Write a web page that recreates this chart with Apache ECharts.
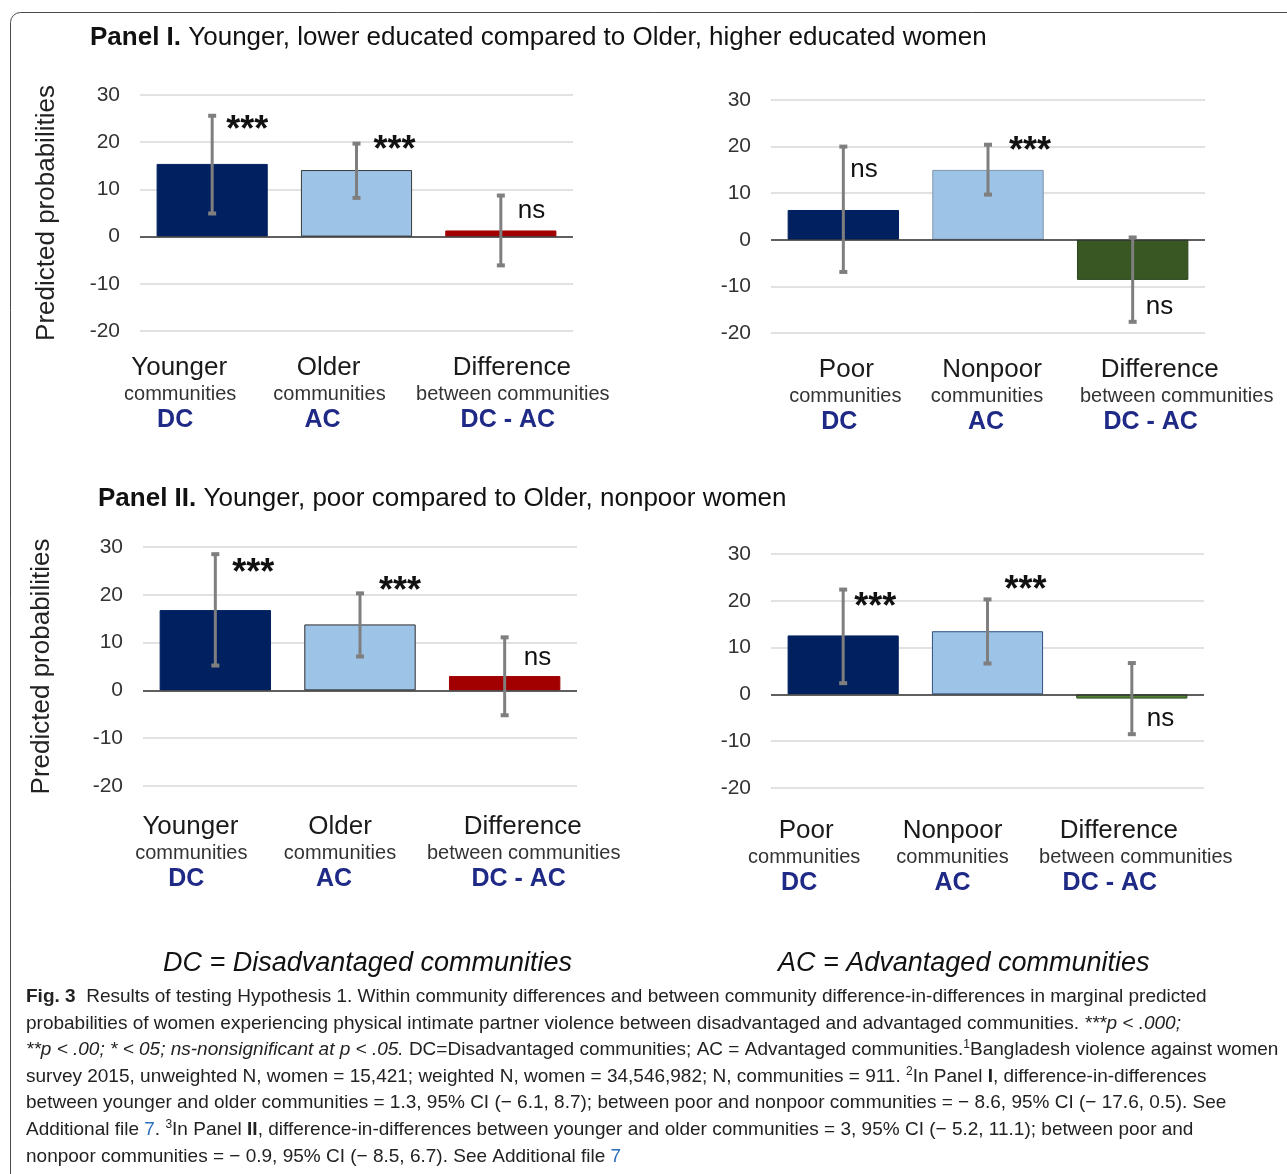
<!DOCTYPE html>
<html>
<head>
<meta charset="utf-8">
<script src="https://cdn.jsdelivr.net/npm/echarts@6/dist/echarts.min.js"></script>
<style>
  html, body { margin: 0; padding: 0; background: #ffffff; }
  #chart { width: 1287px; height: 1174px; }
</style>
</head>
<body>
<div id="chart"></div>
<script>
// ---------- data ----------
const yTicks = [-20, -10, 0, 10, 20, 30];

const ageCategories = [
  ['Younger', 'communities', 'DC'],
  ['Older', 'communities', 'AC'],
  ['Difference', 'between communities', 'DC - AC']
];
const wealthCategories = [
  ['Poor', 'communities', 'DC'],
  ['Nonpoor', 'communities', 'AC'],
  ['Difference', 'between communities', 'DC - AC']
];

// Panel I: younger/lower educated vs older/higher educated women
const panelIAgeValues = [15.4, 14.1, 1.3];
const panelIAgeLow = [4.9, 8.2, -6.1];
const panelIAgeHigh = [25.6, 19.7, 8.7];
const panelIAgeSig = ['***', '***', 'ns'];

const panelIWealthValues = [6.4, 15.0, -8.6];
const panelIWealthLow = [-6.9, 9.7, -17.6];
const panelIWealthHigh = [20.0, 20.4, 0.5];
const panelIWealthSig = ['ns', '***', 'ns'];

// Panel II: younger/poor vs older/nonpoor women
const panelIIAgeValues = [16.8, 13.8, 3.0];
const panelIIAgeLow = [5.2, 7.1, -5.2];
const panelIIAgeHigh = [28.5, 20.3, 11.1];
const panelIIAgeSig = ['***', '***', 'ns'];

const panelIIWealthValues = [12.6, 13.5, -0.9];
const panelIIWealthLow = [2.4, 6.6, -8.5];
const panelIIWealthHigh = [22.4, 20.3, 6.7];
const panelIIWealthSig = ['***', '***', 'ns'];

// ---------- styling / layout ----------
const FONT = '"Liberation Sans", Arial, Helvetica, sans-serif';
const DC_BLUE = '#1f2a86';
const NAVY = '#002060';
const LIGHT = '#9dc3e6';
const RED = '#a20000';
const GREEN = '#385723';

const charts = [
  {
    cats: ageCategories, values: panelIAgeValues, low: panelIAgeLow, high: panelIAgeHigh, sig: panelIAgeSig,
    grid: { left: 140, top: 95, width: 433, height: 236 },
    colors: [[NAVY, NAVY], [LIGHT, '#3a3a3a'], [RED, RED]],
    yName: 'Predicted probabilities', nameGap: 80, labelMargin: 23,
    shifts: [[-33, -32, -37], [-28, -27, -34], [11, 12, 7]],
    sigY: [23.7, 19.3, 5.5], sigDx: [14, 17, 17]
  },
  {
    cats: wealthCategories, values: panelIWealthValues, low: panelIWealthLow, high: panelIWealthHigh, sig: panelIWealthSig,
    grid: { left: 771, top: 100, width: 434, height: 233 },
    colors: [[NAVY, NAVY], [LIGHT, '#7f93aa'], [GREEN, '#2b451b']],
    yName: '', nameGap: 0, labelMargin: 23,
    shifts: [[3, 2, -4], [4, -1, -2], [27, 44, 18]],
    sigY: [15.0, 20.2, -14.4], sigDx: [7, 21, 13]
  },
  {
    cats: ageCategories, values: panelIIAgeValues, low: panelIIAgeLow, high: panelIIAgeHigh, sig: panelIIAgeSig,
    grid: { left: 143, top: 547, width: 434, height: 239 },
    colors: [[NAVY, NAVY], [LIGHT, '#2e2e2e'], [RED, RED]],
    yName: 'Predicted probabilities', nameGap: 88, labelMargin: 27,
    shifts: [[-25, -24, -29], [-20, -20, -26], [18, 19, 14]],
    sigY: [25.5, 21.8, 6.9], sigDx: [17, 19, 19]
  },
  {
    cats: wealthCategories, values: panelIIWealthValues, low: panelIIWealthLow, high: panelIIWealthHigh, sig: panelIIWealthSig,
    grid: { left: 771, top: 554, width: 433, height: 234 },
    colors: [[NAVY, NAVY], [LIGHT, '#2f4f7f'], ['#548235', '#2f4a20']],
    yName: '', nameGap: 0, labelMargin: 29,
    shifts: [[-37, -39, -44], [-35, -35, -35], [-13, 4, -22]],
    sigY: [19.7, 23.3, -5.3], sigDx: [11, 17, 15]
  }
];

// rich styles that let each line of a category label sit at its own horizontal offset
function shiftPad(d) {
  return d >= 0 ? [0, 0, 0, 2 * d] : [0, -2 * d, 0, 0];
}
function categoryRich(shifts) {
  const rich = {};
  shifts.forEach((s, i) => {
    rich['m' + i] = { fontSize: 26, color: '#1a1a1a', fontFamily: FONT, lineHeight: 27, align: 'center', padding: shiftPad(s[0]) };
    rich['s' + i] = { fontSize: 20, color: '#333333', fontFamily: FONT, lineHeight: 26, align: 'center', padding: shiftPad(s[1]) };
    rich['c' + i] = { fontSize: 25, fontWeight: 'bold', color: DC_BLUE, fontFamily: FONT, lineHeight: 27, align: 'center', padding: shiftPad(s[2]) };
  });
  return rich;
}

const grids = [], xAxes = [], yAxes = [], series = [];

charts.forEach((c, k) => {
  grids.push(Object.assign({ containLabel: false }, c.grid));

  xAxes.push({
    type: 'category', gridIndex: k,
    data: c.cats.map((_, i) => i),
    axisLine: { show: false, onZero: false },
    axisTick: { show: false },
    axisLabel: {
      interval: 0, margin: c.labelMargin,
      formatter: (v, i) => `{m${i}|${c.cats[i][0]}}\n{s${i}|${c.cats[i][1]}}\n{c${i}|${c.cats[i][2]}}`,
      rich: categoryRich(c.shifts)
    }
  });

  yAxes.push({
    type: 'value', gridIndex: k,
    min: yTicks[0], max: yTicks[yTicks.length - 1], interval: yTicks[1] - yTicks[0],
    name: c.yName, nameLocation: 'middle', nameGap: c.nameGap, nameRotate: 90,
    nameTextStyle: { fontSize: 26, color: '#222222', fontFamily: FONT },
    axisLine: { show: false }, axisTick: { show: false },
    axisLabel: { fontSize: 21, color: '#333333', fontFamily: FONT, margin: 20 },
    splitLine: { lineStyle: { color: '#d9d9d9', width: 1.5 } }
  });

  // bars
  series.push({
    type: 'bar', xAxisIndex: k, yAxisIndex: k,
    barWidth: '77%',
    data: c.values.map((v, i) => ({
      value: v,
      itemStyle: { color: c.colors[i][0], borderColor: c.colors[i][1], borderWidth: 1 }
    })),
    markLine: {
      silent: true, symbol: 'none', label: { show: false },
      lineStyle: { color: '#333333', width: 1.5, type: 'solid' },
      data: [{ yAxis: 0 }]
    },
    z: 2
  });

  // 95% confidence intervals
  series.push({
    type: 'custom', xAxisIndex: k, yAxisIndex: k,
    data: c.values.map((_, i) => [i, c.low[i], c.high[i]]),
    encode: { x: 0, y: [1, 2] },
    renderItem: (params, api) => {
      const top = api.coord([api.value(0), api.value(2)]);
      const bot = api.coord([api.value(0), api.value(1)]);
      const stroke = { stroke: '#7f7f7f', lineWidth: 3 };
      const cap = { stroke: '#7f7f7f', lineWidth: 4 };
      return {
        type: 'group',
        children: [
          { type: 'line', shape: { x1: top[0], y1: top[1], x2: bot[0], y2: bot[1] }, style: stroke },
          { type: 'line', shape: { x1: top[0] - 4, y1: top[1], x2: top[0] + 4, y2: top[1] }, style: cap },
          { type: 'line', shape: { x1: bot[0] - 4, y1: bot[1], x2: bot[0] + 4, y2: bot[1] }, style: cap }
        ]
      };
    },
    z: 5
  });

  // significance markers
  series.push({
    type: 'custom', xAxisIndex: k, yAxisIndex: k,
    data: c.values.map((_, i) => [i, c.sigY[i]]),
    renderItem: (params, api) => {
      const i = params.dataIndex;
      const p = api.coord([api.value(0), api.value(1)]);
      const stars = c.sig[i] !== 'ns';
      return {
        type: 'text',
        x: p[0] + c.sigDx[i],
        y: p[1] + (stars ? 6 : 0),
        style: {
          text: c.sig[i],
          font: stars ? `bold 36px ${FONT}` : `26px ${FONT}`,
          fill: '#111111',
          align: 'left', verticalAlign: 'middle'
        }
      };
    },
    z: 6
  });
});

// caption lines
const capBase = { fontSize: 19, fill: '#222222', fontFamily: FONT };
const capRich = {
  n: capBase,
  b: Object.assign({}, capBase, { fontWeight: 'bold' }),
  i: Object.assign({}, capBase, { fontStyle: 'italic' }),
  sup: Object.assign({}, capBase, { fontSize: 12, padding: [0, 0, 10, 0] }),
  link: Object.assign({}, capBase, { fill: '#2a6ebb' })
};
const captionLines = [
  '{b|Fig. 3}{n|  Results of testing Hypothesis 1. Within community differences and between community difference-in-differences in marginal predicted}',
  '{n|probabilities of women experiencing physical intimate partner violence between disadvantaged and advantaged communities. }{i|***p < .000;}',
  '{i|**p < .00; * < 05; ns-nonsignificant at p < .05.}{n| DC=Disadvantaged communities; AC = Advantaged communities.}{sup|1}{n|Bangladesh violence against women}',
  '{n|survey 2015, unweighted N, women = 15,421; weighted N, women = 34,546,982; N, communities = 911. }{sup|2}{n|In Panel }{b|I}{n|, difference-in-differences}',
  '{n|between younger and older communities = 1.3, 95% CI (− 6.1, 8.7); between poor and nonpoor communities = − 8.6, 95% CI (− 17.6, 0.5). See}',
  '{n|Additional file }{link|7}{n|. }{sup|3}{n|In Panel }{b|II}{n|, difference-in-differences between younger and older communities = 3, 95% CI (− 5.2, 11.1); between poor and}',
  '{n|nonpoor communities = − 0.9, 95% CI (− 8.5, 6.7). See Additional file }{link|7}'
];
const captionY = [997, 1024, 1050, 1077, 1103, 1130, 1157];

const headingRich = {
  b: { fontSize: 26, fontWeight: 'bold', fontFamily: FONT, fill: '#111' },
  n: { fontSize: 26, fontFamily: FONT, fill: '#111' }
};

const graphics = [
  // figure frame
  { type: 'rect', shape: { x: 10.5, y: 12.5, width: 1320, height: 1220, r: 10 },
    style: { fill: 'none', stroke: '#4a4a4a', lineWidth: 1 }, silent: true },
  // panel headings
  { type: 'text', x: 90, y: 38,
    style: { text: '{b|Panel I.}{n| Younger, lower educated compared to Older, higher educated women}', verticalAlign: 'middle', rich: headingRich } },
  { type: 'text', x: 98, y: 499,
    style: { text: '{b|Panel II.}{n| Younger, poor compared to Older, nonpoor women}', verticalAlign: 'middle', rich: headingRich } },
  // abbreviations
  { type: 'text', x: 163, y: 963,
    style: { text: 'DC = Disadvantaged communities', font: `italic 27px ${FONT}`, fill: '#111', verticalAlign: 'middle' } },
  { type: 'text', x: 778, y: 963,
    style: { text: 'AC = Advantaged communities', font: `italic 27px ${FONT}`, fill: '#111', verticalAlign: 'middle' } }
];
captionLines.forEach((t, i) => {
  graphics.push({ type: 'text', x: 26, y: captionY[i],
    style: { text: t, verticalAlign: 'middle', rich: capRich } });
});

const chart = echarts.init(document.getElementById('chart'), null, { renderer: 'canvas' });
chart.setOption({
  animation: false,
  backgroundColor: '#ffffff',
  textStyle: { fontFamily: FONT },
  grid: grids,
  xAxis: xAxes,
  yAxis: yAxes,
  series: series,
  graphic: graphics
});
</script>
</body>
</html>
